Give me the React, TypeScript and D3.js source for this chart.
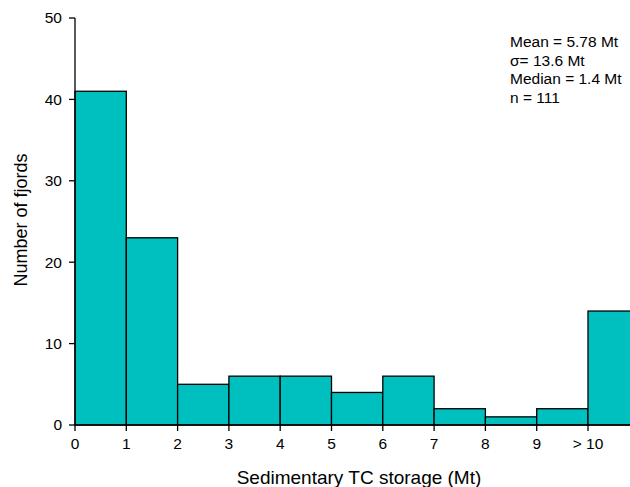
import React from "react";
import * as d3 from "d3";

const binStarts = [0, 1, 2, 3, 4, 5, 6, 7, 8, 9, 10];
const counts = [41, 23, 5, 6, 6, 4, 6, 2, 1, 2, 14];
const xTickValues = [0, 1, 2, 3, 4, 5, 6, 7, 8, 9, 10];
const xTickLabels = ["0", "1", "2", "3", "4", "5", "6", "7", "8", "9", "> 10"];
const yTickValues = [0, 10, 20, 30, 40, 50];
const statsLines = ["Mean = 5.78 Mt", "\u03c3= 13.6 Mt", "Median = 1.4 Mt", "n = 111"];

export default function App() {
  const W = 630, H = 487;
  const left = 75, right = 588, top = 18, bottom = 425;
  const x = d3.scaleLinear().domain([0, 10]).range([left, right]);
  const y = d3.scaleLinear().domain([0, 50]).range([bottom, top]);
  const font = "'Liberation Sans', Arial, sans-serif";
  return (
    <svg width={W} height={H} style={{ position: "absolute", left: 0, top: 0 }} fontFamily={font}>
      <rect width={W} height={H} fill="#fff" />
      {binStarts.map((b, i) => (
        <rect key={i} x={x(b)} y={y(counts[i])} width={x(b + 1) - x(b)} height={y(0) - y(counts[i])}
          fill="#00BFBF" stroke="#000" strokeWidth={1.3} />
      ))}
      <line x1={left} x2={left} y1={y(50)} y2={y(0)} stroke="#000" strokeWidth={1.3} />
      <line x1={left} x2={W} y1={y(0)} y2={y(0)} stroke="#000" strokeWidth={1.3} />
      {yTickValues.map((v) => (
        <g key={v}>
          <line x1={left - 6} x2={left} y1={y(v)} y2={y(v)} stroke="#000" strokeWidth={1.3} />
          <text x={left - 13} y={y(v)} dy="0.35em" textAnchor="end" fontSize={15.5}>{v}</text>
        </g>
      ))}
      {xTickValues.map((v, i) => (
        <g key={v}>
          <line x1={x(v)} x2={x(v)} y1={y(0)} y2={y(0) + 6} stroke="#000" strokeWidth={1.3} />
          <text x={x(v)} y={y(0) + 24} textAnchor="middle" fontSize={15.5}>{xTickLabels[i]}</text>
        </g>
      ))}
      <text x={359} y={484} textAnchor="middle" fontSize={19}>Sedimentary TC storage (Mt)</text>
      <text transform="translate(27,220) rotate(-90)" textAnchor="middle" fontSize={18}>Number of fjords</text>
      {statsLines.map((s, i) => (
        <text key={i} x={510} y={47 + i * 18.5} fontSize={15.5}>{s}</text>
      ))}
    </svg>
  );
}
